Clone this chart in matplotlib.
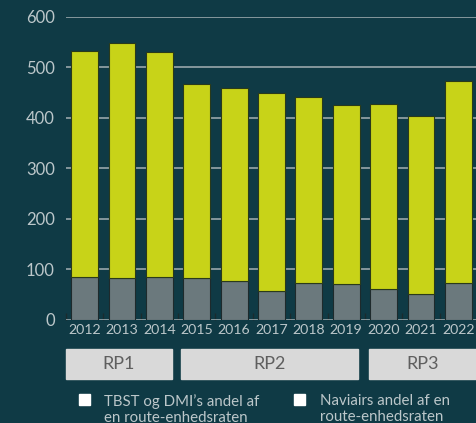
import matplotlib.pyplot as plt
import numpy as np

plt.rcParams['font.family'] = ['Lato', 'DejaVu Sans']

years = ['2012', '2013', '2014', '2015', '2016', '2017', '2018', '2019', '2020', '2021', '2022']
totals = [532, 547, 530, 467, 459, 449, 442, 425, 428, 404, 473]
naviair = [86, 84, 86, 84, 78, 58, 74, 72, 62, 52, 74]
tbst_dmi = [t - n for t, n in zip(totals, naviair)]

periods = ['RP1', 'RP2', 'RP3']
legend_labels = ["TBST og DMI’s andel af\nen route-enhedsraten",
                 "Naviairs andel af en\nroute-enhedsraten"]

bg = '#0f3a45'
text_col = '#bcc7ca'

fig = plt.figure(figsize=(4.77, 4.23), dpi=100, facecolor=bg)
ax = fig.add_axes([66/477, 1-320/423, 1-66/477, 303.3/423])
ax.set_facecolor(bg)

x = np.arange(len(years))
ax.bar(x, naviair, width=0.72, color='#6b797d', edgecolor='#1e2a2c', linewidth=0.8, zorder=3)
ax.bar(x, tbst_dmi, width=0.72, bottom=naviair, color='#c8d318', edgecolor='#2a3a1a',
       linewidth=0.8, zorder=3)

ax.set_xlim(-0.5, 10.5)
ax.set_ylim(0, 600)
ax.set_yticks(range(0, 601, 100))
ax.set_xticks(x)
ax.set_xticklabels(years)
ax.grid(axis='y', color='#a4b0b3', linewidth=1.1, zorder=0)
ax.set_axisbelow(True)
for s in ax.spines.values():
    s.set_visible(False)
ax.tick_params(axis='both', length=0, colors=text_col)
ax.tick_params(axis='y', pad=8, labelsize=12)
ax.tick_params(axis='x', pad=3, labelsize=10.2)
ax.set_xticks(x - 0.5, minor=True)
ax.tick_params(axis='x', which='minor', direction='in', length=5, width=1, color='#1b2b2e')

# periodeboksene
boxes = [(66, 172, 'RP1'), (181, 358, 'RP2'), (369, 477, 'RP3')]
for x0, x1, lab in boxes:
    fig.patches.append(plt.Rectangle((x0/477, 1-379/423), (x1-x0)/477, 30/423,
                                     transform=fig.transFigure, color='#d9d9d9'))
    fig.text((x0+x1)/2/477, 1-364/423, lab, ha='center', va='center',
             color='#5f5f5f', fontsize=13)

# forklaring
for sx, tx, lab in [(79, 104, legend_labels[0]), (294, 320, legend_labels[1])]:
    fig.patches.append(plt.Rectangle((sx/477, 1-405/423), 11/477, 11/423,
                                     transform=fig.transFigure, color='white'))
    fig.text(tx/477, 1-394/423, lab, ha='left', va='top', color=text_col,
             fontsize=10.8, linespacing=1.15)

plt.savefig('out.png', facecolor=bg)
